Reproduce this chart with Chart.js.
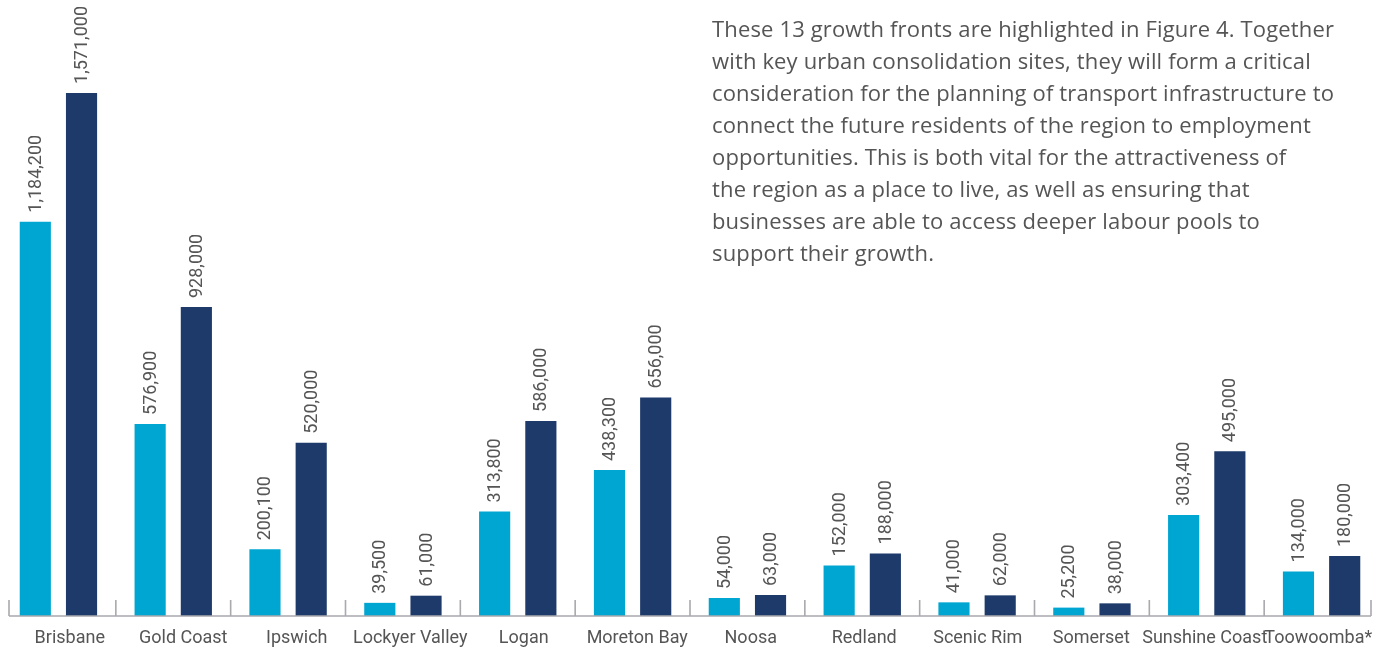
<!DOCTYPE html>
<html>
<head>
<meta charset="utf-8">
<script src="https://cdn.jsdelivr.net/npm/chart.js@4/dist/chart.umd.min.js"></script>
<style>
  html, body { margin: 0; padding: 0; background: #ffffff; }
  #wrap { position: relative; width: 1383px; height: 650px; }
  #chart { position: absolute; left: 0; top: 0; }
  #note {
    position: absolute; left: 712px; top: 12px;
    font-family: "Open Sans", Roboto, sans-serif; font-size: 22px; line-height: 32px;
    letter-spacing: 0.15px; color: #555555; white-space: nowrap;
  }
</style>
</head>
<body>
<div id="wrap">
  <canvas id="chart" width="1383" height="650"></canvas>
  <div id="note">These 13 growth fronts are highlighted in Figure 4. Together<br>with key urban consolidation sites, they will form a critical<br>consideration for the planning of transport infrastructure to<br>connect the future residents of the region to employment<br>opportunities. This is both vital for the attractiveness of<br>the region as a place to live, as well as ensuring that<br>businesses are able to access deeper labour pools to<br>support their growth.</div>
</div>
<script>
// Regions and their populations, current and projected
const regions = ['Brisbane', 'Gold Coast', 'Ipswich', 'Lockyer Valley', 'Logan', 'Moreton Bay',
  'Noosa', 'Redland', 'Scenic Rim', 'Somerset', 'Sunshine Coast', 'Toowoomba*'];
const populationNow = [1184200, 576900, 200100, 39500, 313800, 438300, 54000, 152000, 41000, 25200, 303400, 134000];
const populationFuture = [1571000, 928000, 520000, 61000, 586000, 656000, 63000, 188000, 62000, 38000, 495000, 180000];

const LIGHT = '#00a6d2';
const DARK = '#1d3a6b';
const TEXT = '#555555';
const AXIS = '#a9a9ae';
const FONT = 'Roboto, "Open Sans", sans-serif';

const fmt = v => v.toLocaleString('en-US');

// Vertical value labels sitting above each bar
const valueLabels = {
  id: 'valueLabels',
  afterDatasetsDraw(chart) {
    const ctx = chart.ctx;
    ctx.save();
    ctx.font = '18px ' + FONT;
    ctx.fillStyle = TEXT;
    ctx.textAlign = 'left';
    ctx.textBaseline = 'middle';
    chart.data.datasets.forEach((ds, di) => {
      chart.getDatasetMeta(di).data.forEach((bar, i) => {
        ctx.save();
        ctx.translate(bar.x, bar.y - 9);
        ctx.rotate(-Math.PI / 2);
        ctx.fillText(fmt(ds.data[i]), 0, 1);
        ctx.restore();
      });
    });
    ctx.restore();
  }
};

// Baseline with short upward separators, and the region names beneath it
const categoryAxis = {
  id: 'categoryAxis',
  afterDatasetsDraw(chart) {
    const ctx = chart.ctx;
    const x = chart.scales.x;
    const y0 = chart.chartArea.bottom;
    const n = regions.length;
    const left = x.left + 8, right = x.right - 8;
    const bounds = [];
    for (let i = 0; i <= n; i++) {
      let px;
      if (i === 0) px = left;
      else if (i === n) px = right;
      else px = (x.getPixelForValue(i - 1) + x.getPixelForValue(i)) / 2;
      bounds.push(px);
    }
    ctx.save();
    ctx.strokeStyle = AXIS;
    ctx.lineWidth = 1.6;
    ctx.beginPath();
    ctx.moveTo(bounds[0], y0);
    ctx.lineTo(bounds[n], y0);
    bounds.forEach(px => {
      ctx.moveTo(px, y0);
      ctx.lineTo(px, y0 - 16);
    });
    ctx.stroke();

    // names are spread evenly along the drawn baseline
    const step = (right - left) / n;
    ctx.font = '18px ' + FONT;
    ctx.fillStyle = TEXT;
    ctx.textAlign = 'center';
    ctx.textBaseline = 'middle';
    regions.forEach((name, i) => {
      ctx.fillText(name, left + (i + 0.5) * step + 4, y0 + 22);
    });
    ctx.restore();
  }
};

new Chart(document.getElementById('chart'), {
  type: 'bar',
  data: {
    labels: regions,
    datasets: [
      { data: populationNow, backgroundColor: LIGHT },
      { data: populationFuture, backgroundColor: DARK }
    ]
  },
  options: {
    responsive: false,
    animation: false,
    layout: { padding: { left: 1, right: 4, top: 0, bottom: 0 } },
    datasets: { bar: { categoryPercentage: 0.805, barPercentage: 0.674 } },
    plugins: { legend: { display: false }, tooltip: { enabled: false } },
    scales: {
      x: {
        grid: { display: false, drawTicks: false },
        border: { display: false },
        ticks: { display: false },
        afterFit(scale) { scale.height = 34; }
      },
      y: { display: false, min: 0, max: 1850000 }
    }
  },
  plugins: [valueLabels, categoryAxis]
});
</script>
</body>
</html>
